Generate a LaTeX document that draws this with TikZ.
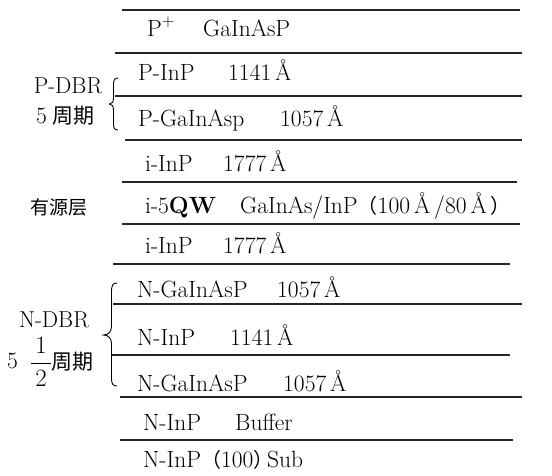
\documentclass[tikz,border=0pt]{standalone}
\usepackage{fontspec}
\usepackage{amsmath}
\newfontfamily\cjkfont{Noto Sans CJK SC}
\begin{document}
\begin{tikzpicture}[x=1pt,y=-1pt,
  layer/.style={line width=1.3pt,draw=black!85},
  txt/.style={anchor=base west,inner sep=0pt,font=\fontsize{23.5}{26}\selectfont},
  lbl/.style={anchor=base,inner sep=0pt,font=\fontsize{23}{26}\selectfont},
  cjk/.style={inner sep=0pt,font=\fontsize{19}{22}\selectfont\cjkfont},
  bracepath/.style={line width=0.9pt}]
\useasboundingbox (0,0) rectangle (552,475);
% layer boundaries
\coordinate (l0a) at (122,10);  \coordinate (l0b) at (520,10);
\coordinate (l1a) at (115,53);  \coordinate (l1b) at (522,53);
\coordinate (l2a) at (115,96);  \coordinate (l2b) at (522,96);
\coordinate (l3a) at (125,140); \coordinate (l3b) at (522,140);
\coordinate (l4a) at (122,182); \coordinate (l4b) at (517,182);
\coordinate (l5a) at (122,224); \coordinate (l5b) at (520,224);
\coordinate (l6a) at (113,264); \coordinate (l6b) at (510,264);
\coordinate (l7a) at (113,304); \coordinate (l7b) at (522,304);
\coordinate (l8a) at (112,355); \coordinate (l8b) at (510,355);
\coordinate (l9a) at (120,397); \coordinate (l9b) at (522,397);
\coordinate (l10a) at (120,440); \coordinate (l10b) at (513,440);
\foreach \i in {0,...,10} {\draw[layer] (l\i a) -- (l\i b);}
% layer texts
\node[txt] (t1a) at (147,36) {P$^{+}$};
\node[txt] (t1b) at (203,36) {GaInAsP};
\node[txt] (t2a) at (138,80) {P-InP};
\node[txt] (t2b) at (228,80) {1141\,\AA};
\node[txt] (t3a) at (138,126) {P-GaInAsp};
\node[txt] (t3b) at (280,126) {1057\,\AA};
\node[txt] (t4a) at (145,171) {i-InP};
\node[txt] (t4b) at (223,171) {1777\,\AA};
\node[txt] (t5a) at (145,213) {i-5\textbf{QW}};
\node[txt] (t5b) at (240,213) {GaInAs/InP{\cjkfont\fontsize{20}{22}\selectfont （}100\,\AA\,/80\,\AA\,{\cjkfont\fontsize{20}{22}\selectfont ）}};
\node[txt] (t6a) at (145,253) {i-InP};
\node[txt] (t6b) at (223,253) {1777\,\AA};
\node[txt] (t7a) at (137,297) {N-GaInAsP};
\node[txt] (t7b) at (277,297) {1057\,\AA};
\node[txt] (t8a) at (137,345) {N-InP};
\node[txt] (t8b) at (230,345) {1141\,\AA};
\node[txt] (t9a) at (137,391) {N-GaInAsP};
\node[txt] (t9b) at (283,391) {1057\,\AA};
\node[txt] (t10a) at (143,430) {N-InP};
\node[txt] (t10b) at (235,430) {Buffer};
\node[txt] (t11a) at (143,467) {N-InP{\cjkfont\fontsize{20}{22}\selectfont （}100{\cjkfont\fontsize{20}{22}\selectfont ）}};
\node[txt] (t11b) at (267,467) {Sub};
% side labels
\node[lbl] (pdbr) at (68,93) {P-DBR};
\node[txt] (p5) at (36,123) {5};
\node[cjk,anchor=west] (pzq) at (52,116) {\fontsize{21}{24}\selectfont 周期};
\node[cjk,anchor=west] (act) at (30,207) {有源层};
\node[lbl] (ndbr) at (54,327) {N-DBR};
\node[txt] (n5) at (7,368) {5};
\node[inner sep=0pt,font=\fontsize{23}{26}\selectfont] (nfrac) at (41,362) {$\dfrac{\,1\,}{\,2\,}$};
\node[cjk,anchor=west] (nzq) at (51,362) {\fontsize{21}{24}\selectfont 周期};
% braces
\draw[bracepath] (118,78) .. controls (114.5,78) and (113.5,80) .. (113.5,85) -- (113.5,98)
  .. controls (113.5,102) and (112,104) .. (109.5,104)
  .. controls (112,104) and (113.5,106) .. (113.5,110) -- (113.5,124)
  .. controls (113.5,128) and (114.5,130) .. (118,130);
\draw[bracepath] (117,283) .. controls (113,283) and (111.5,285) .. (111.5,292) -- (111.5,326)
  .. controls (111.5,331) and (109,335) .. (103.5,335)
  .. controls (109,335) and (111.5,339) .. (111.5,344) -- (111.5,378)
  .. controls (111.5,384) and (113,386) .. (117,386);
\end{tikzpicture}
\end{document}
